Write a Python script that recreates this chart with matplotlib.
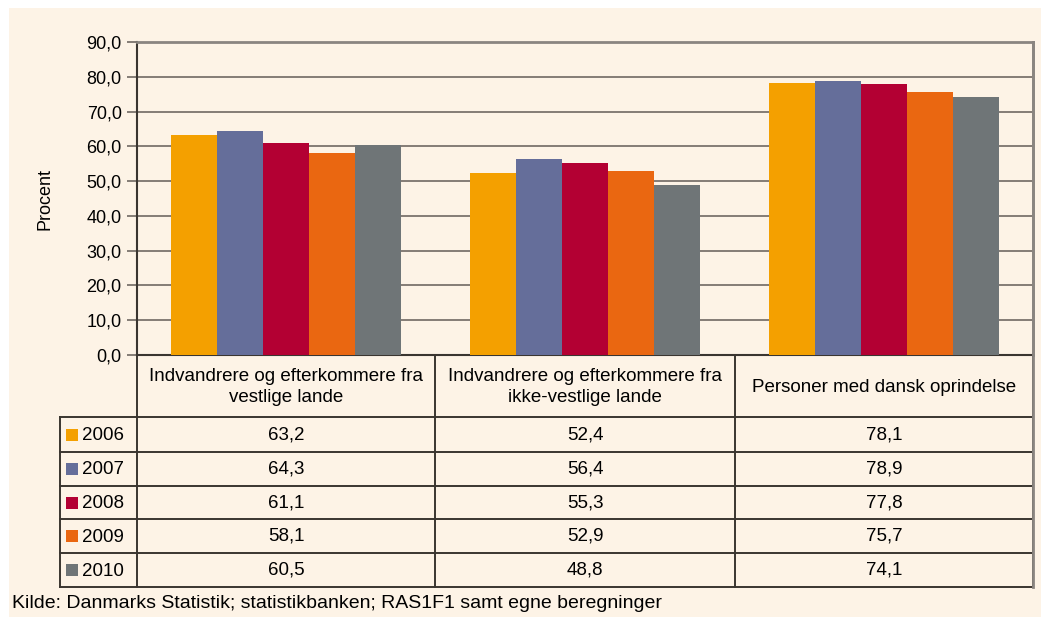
import matplotlib
matplotlib.use("Agg")
import matplotlib.pyplot as plt
from matplotlib.patches import Rectangle

# Data
kategorier = ["Indvandrere og efterkommere fra\nvestlige lande",
              "Indvandrere og efterkommere fra\nikke-vestlige lande",
              "Personer med dansk oprindelse"]
aar = ["2006", "2007", "2008", "2009", "2010"]
v2006 = [63.2, 52.4, 78.1]
v2007 = [64.3, 56.4, 78.9]
v2008 = [61.1, 55.3, 77.8]
v2009 = [58.1, 52.9, 75.7]
v2010 = [60.5, 48.8, 74.1]
serier = [v2006, v2007, v2008, v2009, v2010]
farver = ["#F4A000", "#656E9A", "#B30033", "#EA6711", "#6F7577"]
yticks = [0, 10, 20, 30, 40, 50, 60, 70, 80, 90]

plt.rcParams['font.family'] = ['Liberation Sans', 'DejaVu Sans']
creme = "#FDF3E6"
linje = "#3a3530"
gitter = "#706862"
fs = 13
fs_tab = 13.5

W, H = 1041, 617
fig = plt.figure(figsize=(W / 100, H / 100), dpi=100, facecolor="white")

# baggrund
bg = fig.add_axes([0, 0, 1, 1], zorder=0)
bg.set_xlim(0, W)
bg.set_ylim(H, 0)
bg.axis("off")
bg.add_patch(Rectangle((9, 8), W - 9, H - 8, facecolor=creme, edgecolor="none"))

# søjlediagram
L, R, T, B = 137, 1033, 42, 355
ax = fig.add_axes([L / W, (H - B) / H, (R - L) / W, (B - T) / H], zorder=1)
ax.set_facecolor(creme)
bw = 46 / ((R - L) / 3)
for i, (vals, c) in enumerate(zip(serier, farver)):
    x = [k + (i - 2) * bw for k in range(len(kategorier))]
    ax.bar(x, vals, width=bw, color=c, zorder=3)
ax.set_xlim(-0.5, 2.5)
ax.set_ylim(0, 90)
ax.set_yticks(yticks)
ax.set_yticklabels([f"{t:.1f}".replace(".", ",") for t in yticks], fontsize=fs)
ax.yaxis.grid(True, color=gitter, linewidth=1.2, zorder=1)
ax.tick_params(axis="y", length=7, width=1.2, color=gitter, pad=4)
ax.set_xticks([])
for s in ["top", "right"]:
    ax.spines[s].set_color("#8a8580")
    ax.spines[s].set_linewidth(2)
ax.spines["left"].set_color(linje)
ax.spines["left"].set_linewidth(1.5)
ax.spines["bottom"].set_color(linje)
ax.spines["bottom"].set_linewidth(1.5)
ax.set_ylabel("Procent", fontsize=fs, labelpad=24)

# datatabel
tb = fig.add_axes([0, 0, 1, 1], zorder=2)
tb.set_xlim(0, W)
tb.set_ylim(H, 0)
tb.axis("off")
rows = [355, 417, 452, 486, 519, 553, 587]
cols = [L, 435, 735, R]
lk = dict(color=linje, linewidth=1.4)
for y in rows[1:]:
    tb.plot([60, R], [y, y], **lk)
tb.plot([60, 60], [rows[1], rows[-1]], **lk)
for x in cols:
    tb.plot([x, x], [B, rows[-1]], **lk)
tb.plot([R, R], [T, rows[-1]], color="#8a8580", linewidth=2)

for j, kat in enumerate(kategorier):
    cx = (cols[j] + cols[j + 1]) / 2
    tb.text(cx, (rows[0] + rows[1]) / 2 + 1, kat, ha="center", va="center",
            fontsize=fs_tab, linespacing=1.3)
for i, (a, vals, c) in enumerate(zip(aar, serier, farver)):
    cy = (rows[i + 1] + rows[i + 2]) / 2
    tb.add_patch(Rectangle((66, cy - 6), 12, 12, facecolor=c, edgecolor="none"))
    tb.text(82, cy + 1, a, ha="left", va="center", fontsize=fs_tab)
    for j, v in enumerate(vals):
        cx = (cols[j] + cols[j + 1]) / 2
        tb.text(cx, cy, f"{v:.1f}".replace(".", ","), ha="center", va="center", fontsize=fs_tab)

tb.text(12, 604, "Kilde: Danmarks Statistik; statistikbanken; RAS1F1 samt egne beregninger",
        ha="left", va="center", fontsize=14)

fig.savefig("out.png", dpi=100, facecolor="white")
